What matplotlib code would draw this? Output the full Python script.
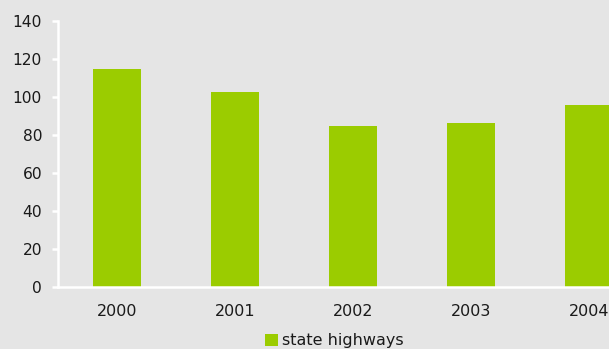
import matplotlib.pyplot as plt

years = ['2000', '2001', '2002', '2003', '2004']
state_highways = [114.6, 102.5, 84.7, 86.2, 95.7]

bg = '#e5e5e5'
bar_color = '#9bcc00'

plt.rcParams['font.family'] = ['DejaVu Sans']

fig = plt.figure(figsize=(6.09, 3.49), dpi=100, facecolor=bg)
ax = fig.add_axes([58 / 609, 1 - 287 / 349, 1 - 58 / 609, (287 - 21) / 349])
ax.set_facecolor(bg)

x = range(len(years))
bars = ax.bar(x, state_highways, width=0.41, color=bar_color, label='state highways')

ax.set_xlim(-0.5, 4.17)
ax.set_ylim(0, 140)
ax.set_yticks(range(0, 141, 20))
ax.set_xticks(list(x))
ax.set_xticklabels(years)

for side in ['top', 'right']:
    ax.spines[side].set_visible(False)
for side in ['left', 'bottom']:
    ax.spines[side].set_color('white')
    ax.spines[side].set_linewidth(1.8)

ax.tick_params(axis='y', colors='white', labelcolor='#1a1a1a', length=4.5, width=1.8,
               pad=7, labelsize=11.2)
ax.tick_params(axis='x', length=0, pad=12, labelcolor='#1a1a1a', labelsize=11.5)

fig.legend(handles=[bars], labels=['state highways'], loc='center',
           bbox_to_anchor=(334 / 609, 1 - 341 / 349), frameon=False,
           handlelength=0.8, handleheight=0.8, handletextpad=0.25,
           fontsize=11.5, labelcolor='#1a1a1a')

fig.savefig('out.png', dpi=100, facecolor=bg)
